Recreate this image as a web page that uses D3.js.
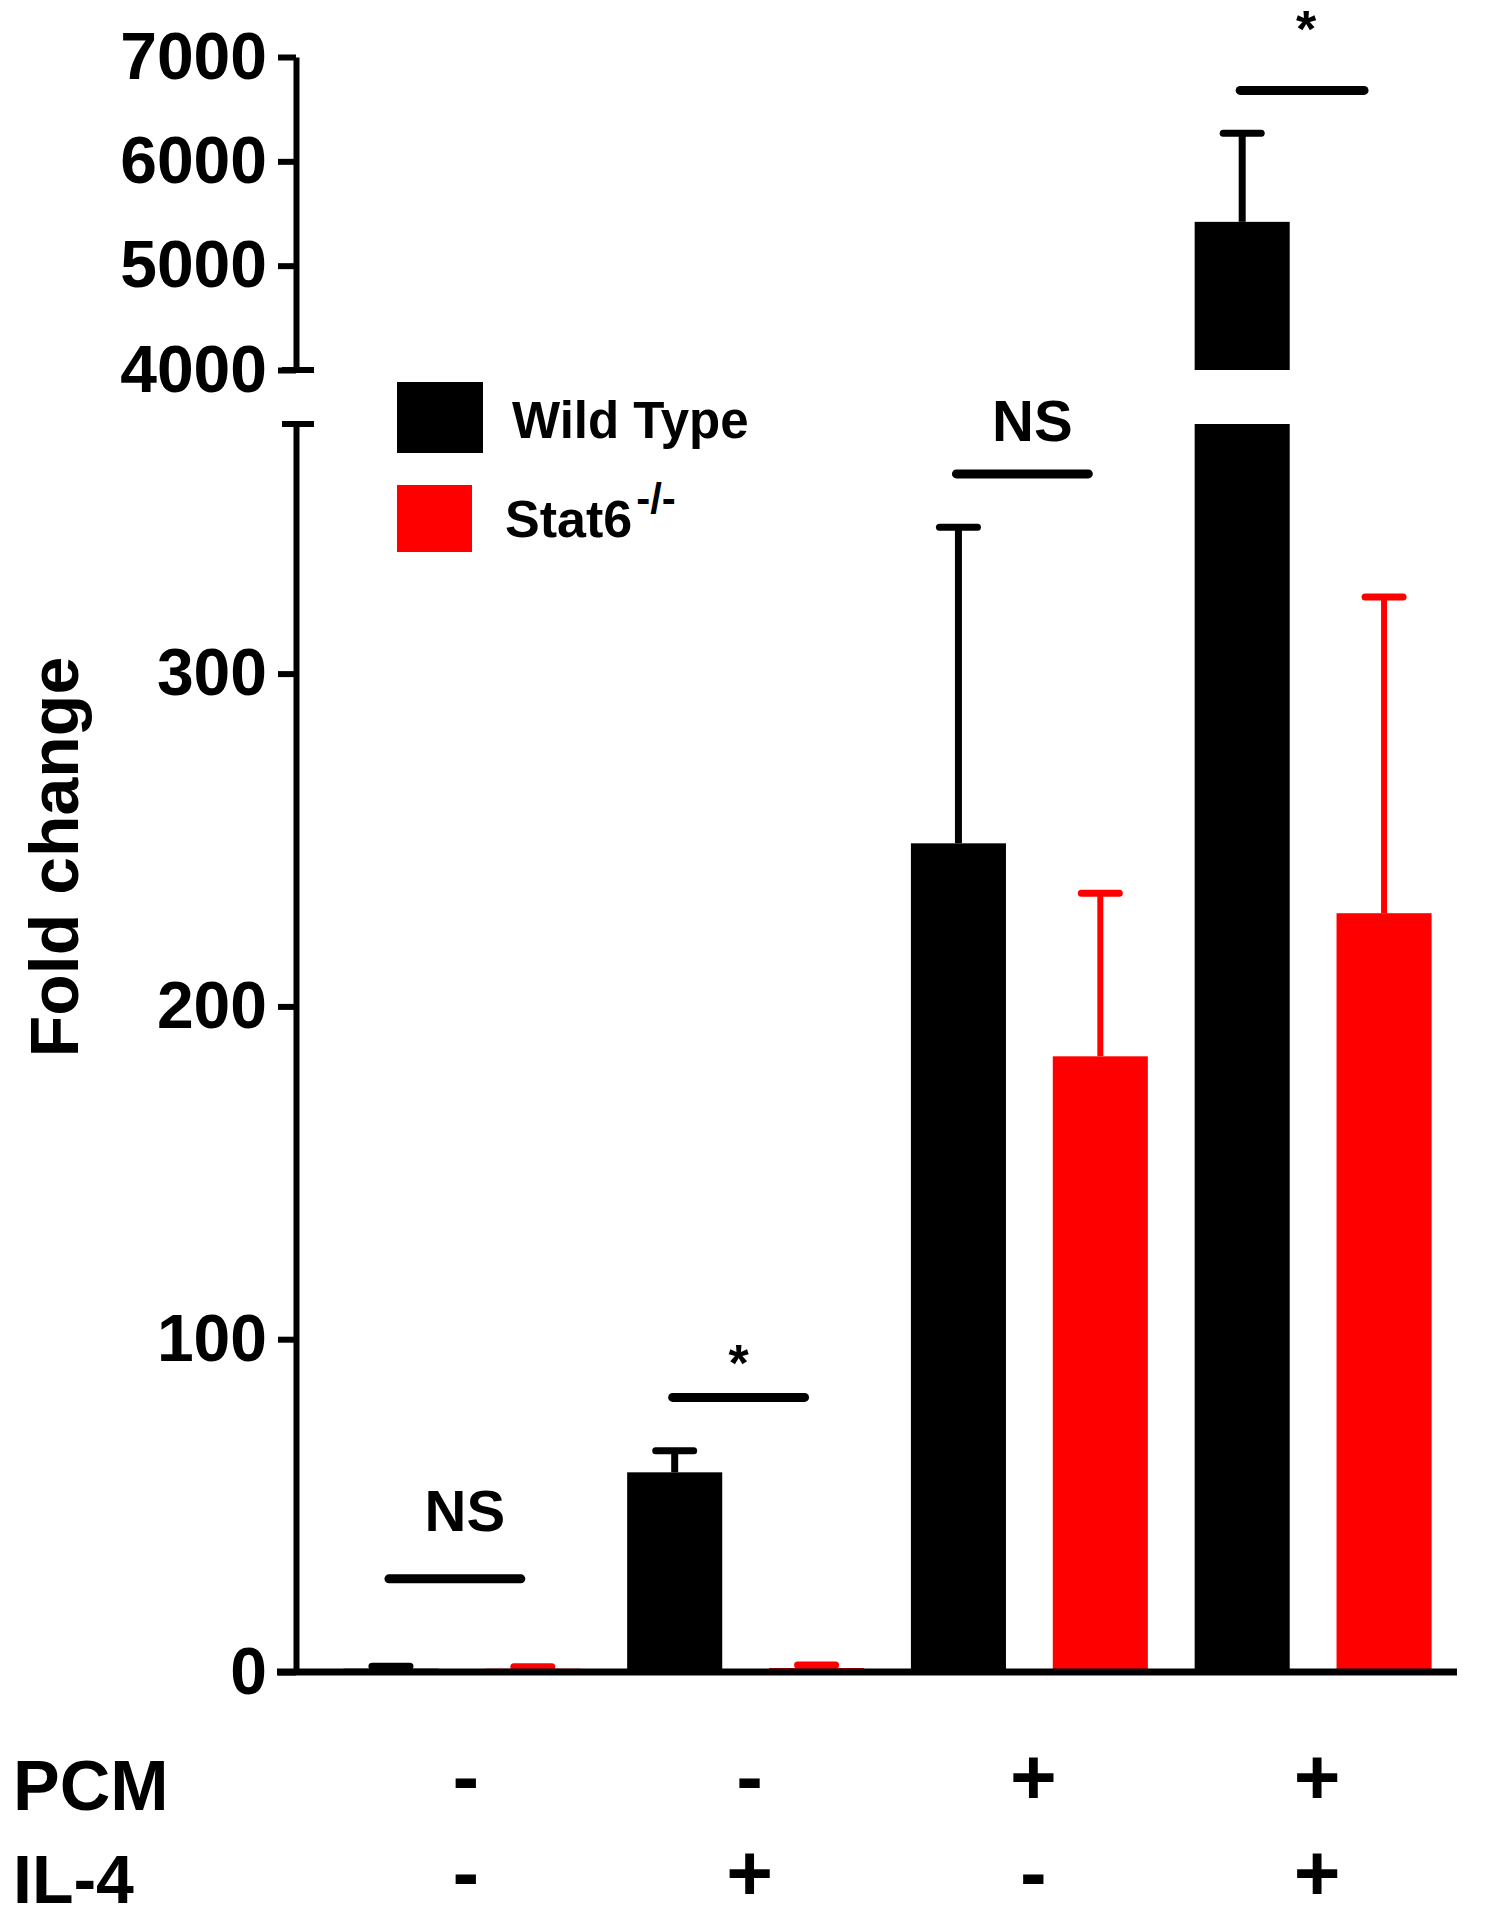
<!DOCTYPE html>
<html>
<head>
<meta charset="utf-8">
<script src="https://cdn.jsdelivr.net/npm/d3@7"></script>
<style>
  html, body { margin: 0; padding: 0; background: #fff; }
  svg { display: block; }
  text { font-family: "Liberation Sans", Arial, sans-serif; font-weight: bold; fill: #000; }
</style>
</head>
<body>
<svg id="chart" width="1494" height="1920"></svg>
<script>
// ---------------- data ----------------
const groups = ["A", "B", "C", "D"];
const series = ["Wild Type", "Stat6"];
const seriesColors = ["#000000", "#ff0000"];
const pcmSigns = ["-", "-", "+", "+"];
const il4Signs = ["-", "+", "-", "+"];
const wtMeans = [1, 60, 249, 5420];
const wtErrors = [0.7, 6.5, 95, 850];
const koMeans = [1, 1.2, 185, 228];
const koErrors = [0.6, 0.9, 49, 95];
const lowerTicks = [0, 100, 200, 300];
const upperTicks = [4000, 5000, 6000, 7000];
const sigLabels = ["NS", "*", "NS", "*"];
const sigLineValues = [28, 82.5, 360, 6680];
const sigLabelValues = [42.5, 87.5, 370, 7100];

// ---------------- layout ----------------
const svg = d3.select("#chart");
const axisX = 296;
const lowerMax = 375;
const yLow = d3.scaleLinear().domain([0, lowerMax]).range([1672, 424]);
const yHigh = d3.scaleLinear().domain([4000, 7000]).range([370, 57]);
const yOf = v => (v <= lowerMax ? yLow(v) : yHigh(v));

const x0 = d3.scaleBand().domain(groups).range([320, 1455]);
const x1 = d3.scaleBand().domain(series).range([0, x0.bandwidth()])
  .paddingInner(0.33).paddingOuter(0.165);

const rows = groups.map((g, i) => ([
  { g, s: series[0], color: seriesColors[0], mean: wtMeans[i], err: wtErrors[i] },
  { g, s: series[1], color: seriesColors[1], mean: koMeans[i], err: koErrors[i] }
])).flat();

// ---------------- bars ----------------
const barG = svg.append("g");
rows.forEach(d => {
  const bx = x0(d.g) + x1(d.s);
  const bw = x1.bandwidth();
  if (d.mean <= lowerMax) {
    barG.append("rect").attr("x", bx).attr("width", bw)
      .attr("y", yLow(d.mean)).attr("height", yLow(0) - yLow(d.mean))
      .attr("fill", d.color);
  } else {
    barG.append("rect").attr("x", bx).attr("width", bw)
      .attr("y", yLow(lowerMax)).attr("height", yLow(0) - yLow(lowerMax))
      .attr("fill", d.color);
    barG.append("rect").attr("x", bx).attr("width", bw)
      .attr("y", yHigh(d.mean)).attr("height", yHigh(4000) - yHigh(d.mean))
      .attr("fill", d.color);
  }
  // error bar (upper only)
  const cx = bx + bw / 2;
  const top = yOf(d.mean + d.err);
  barG.append("line").attr("x1", cx).attr("x2", cx)
    .attr("y1", yOf(d.mean)).attr("y2", top)
    .attr("stroke", d.color).attr("stroke-width", d.color === "#000000" ? 7 : 6);
  barG.append("line").attr("x1", cx - 19).attr("x2", cx + 19)
    .attr("y1", top).attr("y2", top)
    .attr("stroke", d.color).attr("stroke-width", 7).attr("stroke-linecap", "round");
});

// ---------------- axes ----------------
function styleAxis(g) {
  g.selectAll("path.domain").attr("stroke", "#000").attr("stroke-width", 6);
  g.selectAll(".tick line").attr("stroke", "#000").attr("stroke-width", 6);
  g.selectAll(".tick text").style("font-size", "66px")
    .style("font-family", "'Liberation Sans', Arial, sans-serif")
    .style("font-weight", "bold").attr("fill", "#000");
}
const lowAxisG = svg.append("g").attr("transform", `translate(${axisX},0)`)
  .call(d3.axisLeft(yLow).tickValues(lowerTicks).tickSize(18).tickSizeOuter(0)
    .tickPadding(11).tickFormat(d3.format("d")));
styleAxis(lowAxisG);
const highAxisG = svg.append("g").attr("transform", `translate(${axisX},0)`)
  .call(d3.axisLeft(yHigh).tickValues(upperTicks).tickSize(18).tickSizeOuter(0)
    .tickPadding(11).tickFormat(d3.format("d")));
styleAxis(highAxisG);

// break caps
[yHigh(4000), yLow(lowerMax)].forEach(yy => {
  svg.append("line").attr("x1", axisX - 14).attr("x2", axisX + 18)
    .attr("y1", yy).attr("y2", yy)
    .attr("stroke", "#000").attr("stroke-width", 6);
});

// x baseline
svg.append("line").attr("x1", axisX - 19).attr("x2", 1457)
  .attr("y1", yLow(0)).attr("y2", yLow(0))
  .attr("stroke", "#000").attr("stroke-width", 7);

// ---------------- significance ----------------
groups.forEach((g, i) => {
  const wc = x0(g) + x1(series[0]) + x1.bandwidth() / 2;
  const kc = x0(g) + x1(series[1]) + x1.bandwidth() / 2;
  const ly = yOf(sigLineValues[i]);
  svg.append("line").attr("x1", wc - 2).attr("x2", kc - (i === 3 ? 20 : 12))
    .attr("y1", ly).attr("y2", ly)
    .attr("stroke", "#000").attr("stroke-width", 9).attr("stroke-linecap", "round");
  const gc = x0(g) + x0.bandwidth() / 2;
  const isStar = sigLabels[i] === "*";
  svg.append("text")
    .attr("x", isStar ? gc - 7 : gc + 3)
    .attr("y", yOf(sigLabelValues[i]))
    .attr("text-anchor", "middle")
    .style("font-size", isStar ? "52px" : "58px")
    .text(sigLabels[i]);
});

// ---------------- y title ----------------
svg.append("text")
  .attr("transform", "translate(78,857) rotate(-90)")
  .attr("text-anchor", "middle")
  .style("font-size", "68px")
  .text("Fold change");

// ---------------- legend ----------------
const leg = svg.append("g");
leg.append("rect").attr("x", 397).attr("y", 382).attr("width", 86).attr("height", 71).attr("fill", seriesColors[0]);
leg.append("rect").attr("x", 397).attr("y", 485).attr("width", 75).attr("height", 67).attr("fill", seriesColors[1]);
leg.append("text").attr("x", 512).attr("y", 438).style("font-size", "51px").text(series[0]);
const t2 = leg.append("text").attr("x", 505).attr("y", 537).style("font-size", "52px");
t2.append("tspan").text(series[1]);
t2.append("tspan").attr("dy", -24).attr("dx", 4).style("font-size", "42px").text("-/-");

// ---------------- condition rows ----------------
svg.append("text").attr("x", 13).attr("y", 1810).style("font-size", "70px").text("PCM");
svg.append("text").attr("x", 13).attr("y", 1903).style("font-size", "68px").text("IL-4");
groups.forEach((g, i) => {
  const gc = x0(g) + x0.bandwidth() / 2 + 4;
  svg.append("text").attr("x", gc).attr("y", 1804).attr("text-anchor", "middle")
    .style("font-size", "80px").text(pcmSigns[i]);
  svg.append("text").attr("x", gc).attr("y", 1900).attr("text-anchor", "middle")
    .style("font-size", "80px").text(il4Signs[i]);
});
</script>
</body>
</html>
